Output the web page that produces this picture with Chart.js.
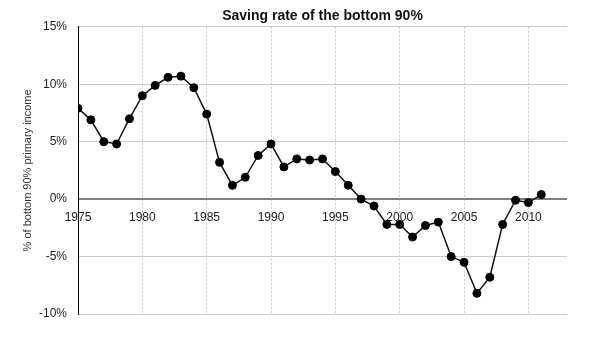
<!DOCTYPE html>
<html>
<head>
<meta charset="utf-8">
<script src="https://cdn.jsdelivr.net/npm/chart.js@4/dist/chart.umd.min.js"></script>
<style>
  html, body { margin: 0; padding: 0; background: #fff; }
  #wrap { width: 616px; height: 346px; }
</style>
</head>
<body>
<div id="wrap"><canvas id="chartSaving"></canvas></div>
<script>
// DADOS
const anos = [1975, 1976, 1977, 1978, 1979, 1980, 1981, 1982, 1983, 1984,
  1985, 1986, 1987, 1988, 1989, 1990, 1991, 1992, 1993, 1994,
  1995, 1996, 1997, 1998, 1999, 2000, 2001, 2002, 2003, 2004,
  2005, 2006, 2007, 2008, 2009, 2010, 2011];
const poupanca = [7.9, 6.9, 5.0, 4.8, 7.0, 9.0, 9.9, 10.6, 10.7, 9.7,
  7.4, 3.2, 1.2, 1.9, 3.8, 4.8, 2.8, 3.5, 3.4, 3.5,
  2.4, 1.2, 0.0, -0.6, -2.2, -2.2, -3.3, -2.3, -2.0, -5.0,
  -5.5, -8.2, -6.8, -2.2, -0.1, -0.3, 0.4];
const ticksX = [1975, 1980, 1985, 1990, 1995, 2000, 2005, 2010];
const ticksY = [-10, -5, 0, 5, 10, 15];

const fonte = "'Liberation Sans', Arial, Helvetica, sans-serif";

// GRÁFICO
const ctx = document.getElementById("chartSaving");

const chartSaving = new Chart(ctx, {
  type: "line",
  data: {
    datasets: [
      {
        label: "Saving rate",
        data: anos.map((a, i) => ({ x: a, y: poupanca[i] })),
        borderColor: "#111",
        borderWidth: 1.5,
        pointRadius: 4,
        pointBackgroundColor: "#000",
        pointBorderColor: "#000",
        pointBorderWidth: 1,
        tension: 0,
      },
    ],
  },
  options: {
    responsive: true,
    maintainAspectRatio: false,
    animation: false,
    layout: { padding: { left: 0, right: 49, top: 0, bottom: 32 } },
    plugins: {
      legend: { display: false },
      tooltip: { enabled: false },
      title: {
        display: true,
        text: "Saving rate of the bottom 90%",
        fullSize: false,
        color: "#111",
        font: { family: fonte, size: 14, weight: "bold" },
        padding: { top: 8, bottom: 2 },
      },
    },
    scales: {
      x: {
        type: "linear",
        min: 1975,
        max: 2013,
        position: { y: 0 },
        afterBuildTicks: (scale) => {
          scale.ticks = ticksX.map((v) => ({ value: v }));
        },
        // eixo fica no zero, não precisa de espaço embaixo
        afterFit: (scale) => {
          scale.height = 0;
        },
        ticks: {
          color: "#222",
          font: { family: fonte, size: 12 },
          padding: 11,
          maxRotation: 0,
          callback: (v) => String(v),
        },
        grid: {
          drawTicks: false,
          color: (c) => (c.tick && c.tick.value === 1975 ? "rgba(0,0,0,0)" : "#c8c8c8"),
          lineWidth: 1,
        },
        // no v4 o tracejado da grade fica em border.dash
        border: { display: false, dash: [2, 2] },
      },
      y: {
        min: -10,
        max: 15,
        afterBuildTicks: (scale) => {
          scale.ticks = ticksY.map((v) => ({ value: v }));
        },
        afterFit: (scale) => {
          scale.width = 78;
        },
        ticks: {
          color: "#222",
          font: { family: fonte, size: 12 },
          padding: 11,
          callback: (v) => v + "%",
        },
        grid: {
          drawTicks: false,
          color: (c) => (c.tick && c.tick.value === 0 ? "#808080" : "#cccccc"),
          lineWidth: (c) => (c.tick && c.tick.value === 0 ? 2 : 1),
        },
        border: { display: true, color: "#000", width: 1 },
        title: {
          display: true,
          text: "% of bottom 90% primary income",
          color: "#333",
          font: { family: fonte, size: 11 },
          padding: { top: 21, bottom: 0 },
        },
      },
    },
  },
});
</script>
</body>
</html>
